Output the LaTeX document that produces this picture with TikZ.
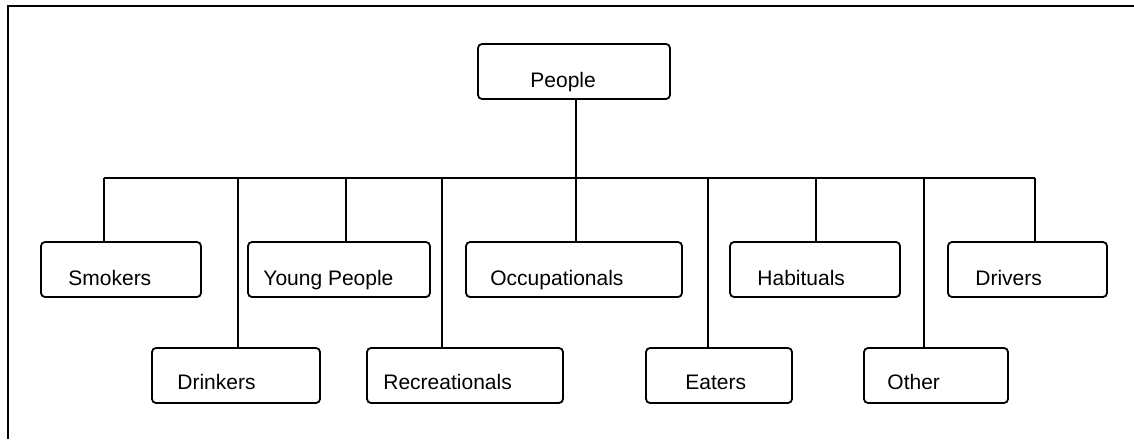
\documentclass[tikz,border=0pt]{standalone}
\usepackage{fontspec}
\setmainfont{Liberation Sans}
\usetikzlibrary{positioning, fit}
\tikzset{
	catbox/.append style={
		draw,
		rounded corners=2pt,
		line width=0.9pt,
		inner sep=0pt,
	},
	catlabel/.append style={
		anchor=base west,
		inner sep=0pt,
		font={\fontsize{10.5}{12}\selectfont}
	},
	link/.append style={
		line width=0.8pt,
	}
}

\begin{document}
\begin{tikzpicture}[x=0.5pt, y=-0.5pt]
\useasboundingbox (0,0) rectangle (1134,439);
% frame
\draw[line width=1pt] (8,439) -- (8,6) -- (1134,6);

% root
\node[catbox, fit={(478,44) (670,99)}] (people) {};
\node[catlabel] at (530,87) {People};

% upper row
\node[catbox, fit={(41,242) (201,297)}] (smokers) {};
\node[catlabel] at (68,285) {Smokers};
\node[catbox, fit={(248,242) (430,297)}] (young) {};
\node[catlabel] at (263,285) {Young People};
\node[catbox, fit={(466,242) (682,297)}] (occup) {};
\node[catlabel] at (490,285) {Occupationals};
\node[catbox, fit={(730,242) (900,297)}] (habit) {};
\node[catlabel] at (757,285) {Habituals};
\node[catbox, fit={(948,242) (1107,297)}] (drivers) {};
\node[catlabel] at (975,285) {Drivers};

% lower row
\node[catbox, fit={(152,348) (320,403)}] (drinkers) {};
\node[catlabel] at (177,389) {Drinkers};
\node[catbox, fit={(367,348) (563,403)}] (recre) {};
\node[catlabel] at (383,389) {Recreationals};
\node[catbox, fit={(646,348) (792,403)}] (eaters) {};
\node[catlabel] at (685,389) {Eaters};
\node[catbox, fit={(864,348) (1008,403)}] (other) {};
\node[catlabel] at (887,389) {Other};

% bus and drops
\coordinate (hub) at (576,178);
\foreach \name/\tx in {smokers/104, drinkers/238, young/346, recre/442, occup/576,
	eaters/708, habit/816, other/924, drivers/1035}
	\coordinate (t\name) at (\tx,178);

\draw[link] (hub |- people.south) -- (hub);
\draw[link] (tsmokers) -- (tdrivers);
\foreach \name in {smokers, drinkers, young, recre, occup, eaters, habit, other, drivers}
	\draw[link] (t\name) -- (t\name |- \name.north);
\end{tikzpicture}
\end{document}
